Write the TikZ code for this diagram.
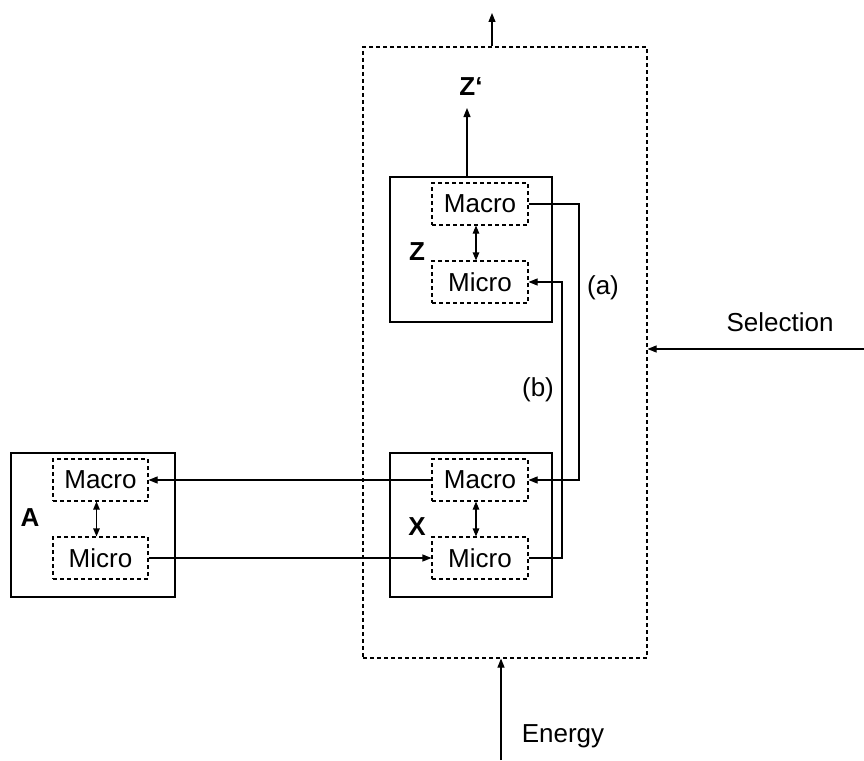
\documentclass[tikz,border=0pt]{standalone}
\usepackage{fontspec}
\setmainfont{Liberation Sans}
\usetikzlibrary{arrows.meta}
\tikzset{
  every node/.style={font=\fontsize{26}{30}\selectfont},
  outer/.style={draw, dashed, dash pattern=on 4pt off 3pt, line width=1.1pt, minimum width=284pt, minimum height=611pt, inner sep=0pt},
  sysbox/.style={draw, line width=1.1pt, minimum width=162pt, minimum height=144pt, inner sep=0pt},
  lvlbox/.style={draw, dashed, dash pattern=on 4pt off 3pt, line width=1.1pt, minimum width=96pt, minimum height=42pt, inner sep=0pt},
  lbl/.style={font=\fontsize{26}{30}\selectfont\bfseries},
  arr/.style={-{Triangle[length=9pt,width=7pt]}, line width=1.1pt},
  dbl/.style={{Triangle[length=8pt,width=6.5pt]}-{Triangle[length=8pt,width=6.5pt]}, line width=1.1pt},
}
\begin{document}
\begin{tikzpicture}[x=1pt,y=-1pt]
\useasboundingbox (0,0) rectangle (864,760);
% outer dashed system
\node[outer] (big) at (505,352.5) {};
% Z system
\node[sysbox, minimum height=145pt] (zbox) at (471,249.5) {};
\node[lvlbox] (zmac) at (480,204) {Macro};
\node[lvlbox] (zmic) at (480,282) {Micro};
\node[lbl] (zl) at (417,252) {Z};
% X system
\node[sysbox] (xbox) at (471,525) {};
\node[lvlbox] (xmac) at (480,480) {Macro};
\node[lvlbox] (xmic) at (480,558) {Micro};
\node[lbl] (xl) at (417,527) {X};
% A system
\node[sysbox, minimum width=164pt] (abox) at (93,525) {};
\node[lvlbox, minimum width=95pt] (amac) at (100.5,480) {Macro};
\node[lvlbox, minimum width=95pt] (amic) at (100.5,558) {Micro};
\node[lbl] (al) at (30,518) {A};
% macro-micro double arrows
\draw[dbl] ([xshift=-4pt]zmac.south) -- ([xshift=-4pt]zmic.north);
\draw[dbl] ([xshift=-4pt]xmac.south) -- ([xshift=-4pt]xmic.north);
\draw[dbl] ([xshift=-4pt]amac.south) -- ([xshift=-4pt]amic.north);
% Z' output
\node[lbl] (zp) at (471,87) {Z‘};
\coordinate (zptip) at (467,108);
\draw[arr] (zptip |- zbox.north) -- (zptip);
% top output
\coordinate (toptip) at (492,13);
\draw[arr] (toptip |- big.north) -- (toptip);
% (a) and (b) loops
\coordinate (acol) at (579,0);
\coordinate (bcol) at (562,0);
\draw[arr] (zmac.east) -- (zmac.east -| acol) -- (xmac.east -| acol) -- (xmac.east);
\draw[arr] (xmic.east) -- (xmic.east -| bcol) -- (zmic.east -| bcol) -- (zmic.east);
\node (la) at (603,288) {(a)};
\node (lb) at (538,390) {(b)};
% X <-> A
\draw[arr] (xmac.west) -- (amac.east);
\draw[arr] (amic.east) -- (xmic.west);
% Selection
\coordinate (selstart) at (864,349);
\draw[arr] (selstart) -- (selstart -| big.east);
\node (sel) at (780,322) {Selection};
% Energy
\coordinate (enstart) at (501,760);
\draw[arr] (enstart) -- (enstart |- big.south);
\node (en) at (563,736) {Energy};
\end{tikzpicture}
\end{document}
